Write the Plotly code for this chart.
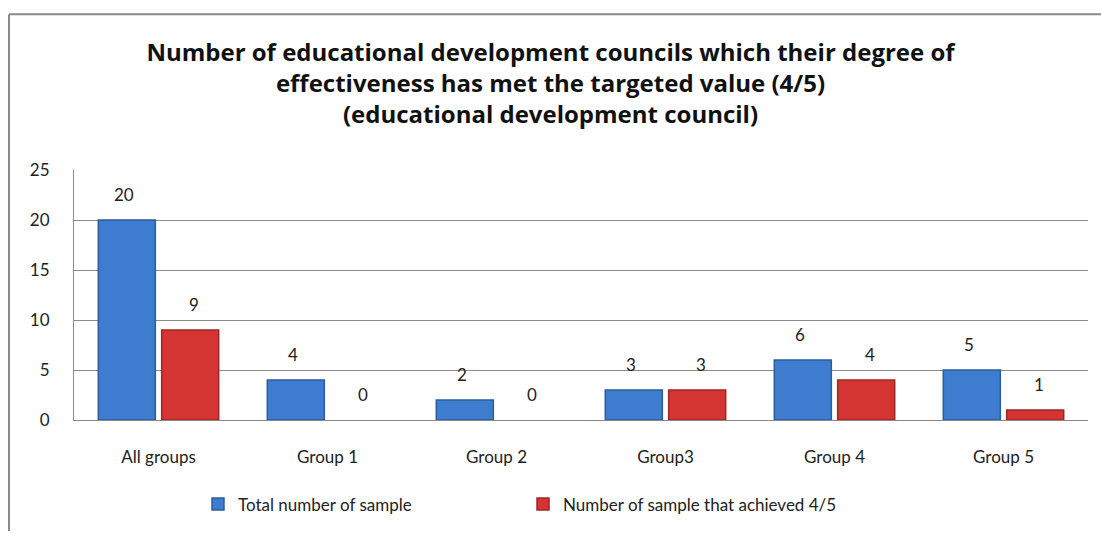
import plotly.graph_objects as go

categories = ["All groups", "Group 1", "Group 2", "Group3", "Group 4", "Group 5"]
total_sample = [20, 4, 2, 3, 6, 5]
achieved_sample = [9, 0, 0, 3, 4, 1]
series_names = ["Total number of sample", "Number of sample that achieved 4/5"]
title_lines = [
    "Number of educational development councils which their degree of",
    "effectiveness has met the targeted value (4/5)",
    "(educational development council)",
]
y_ticks = [0, 5, 10, 15, 20, 25]

W, H = 1101, 534
ML, MR, MT, MB = 74, 13, 170, 112
PW = W - ML - MR
PH = H - MT - MB

fig = go.Figure()
fig.add_trace(go.Bar(
    x=categories, y=total_sample, name=series_names[0],
    marker=dict(color="#3D7CCF",
                line=dict(color="#2B5C9F", width=[1.5 if v > 0 else 0 for v in total_sample])),
))
fig.add_trace(go.Bar(
    x=categories, y=achieved_sample, name=series_names[1],
    marker=dict(color="#D43533",
                line=dict(color="#A02626", width=[1.5 if v > 0 else 0 for v in achieved_sample])),
))

label_font = dict(family="Lato", size=17, color="#222222")
for vals, shift in ((total_sample, -35), (achieved_sample, 35)):
    for c, v in zip(categories, vals):
        fig.add_annotation(x=c, y=v, text=str(v), showarrow=False,
                           xshift=shift, yshift=13, yanchor="bottom",
                           font=label_font)

fig.update_layout(
    width=W, height=H,
    margin=dict(l=ML, r=MR, t=MT, b=MB),
    paper_bgcolor="white", plot_bgcolor="white",
    barmode="group", bargap=0.25, bargroupgap=0.1,
    title=dict(text="<br>".join(title_lines), x=0.5, xanchor="center",
               y=1 - 61 / H, yanchor="top",
               font=dict(family="Open Sans", size=24, color="#111111", weight="bold")),
    legend=dict(orientation="h", x=(198 - ML) / PW, xanchor="left", y=-(507 - 422) / PH,
                yanchor="middle", font=dict(family="Lato", size=17, color="#222222"),
                itemwidth=30, tracegroupgap=0, entrywidth=280, entrywidthmode="pixels"),
    showlegend=True,
)
fig.update_xaxes(showgrid=False, showline=True, linecolor="#888888", linewidth=1,
                 ticks="", ticklabelstandoff=22,
                 tickfont=dict(family="Lato", size=17, color="#222222"))
fig.update_yaxes(range=[0, 25], tickvals=y_ticks, showgrid=True, gridcolor="#8c8c8c",
                 gridwidth=1, showline=True, linecolor="#8c8c8c", linewidth=1,
                 ticks="", ticklabelstandoff=20, zeroline=False,
                 tickfont=dict(family="Lato", size=17, color="#222222"))

# outer chart frame (top and left edges)
fig.add_shape(type="line", xref="paper", yref="paper",
              x0=(9 - ML) / PW, x1=1.02, y0=1 + (MT - 13) / PH, y1=1 + (MT - 13) / PH,
              line=dict(color="#8a8a8a", width=2))
fig.add_shape(type="line", xref="paper", yref="paper",
              x0=(9 - ML) / PW, x1=(9 - ML) / PW, y0=1 + (MT - 13) / PH, y1=-MB / PH,
              line=dict(color="#8a8a8a", width=2))

fig.write_html("out.html")
